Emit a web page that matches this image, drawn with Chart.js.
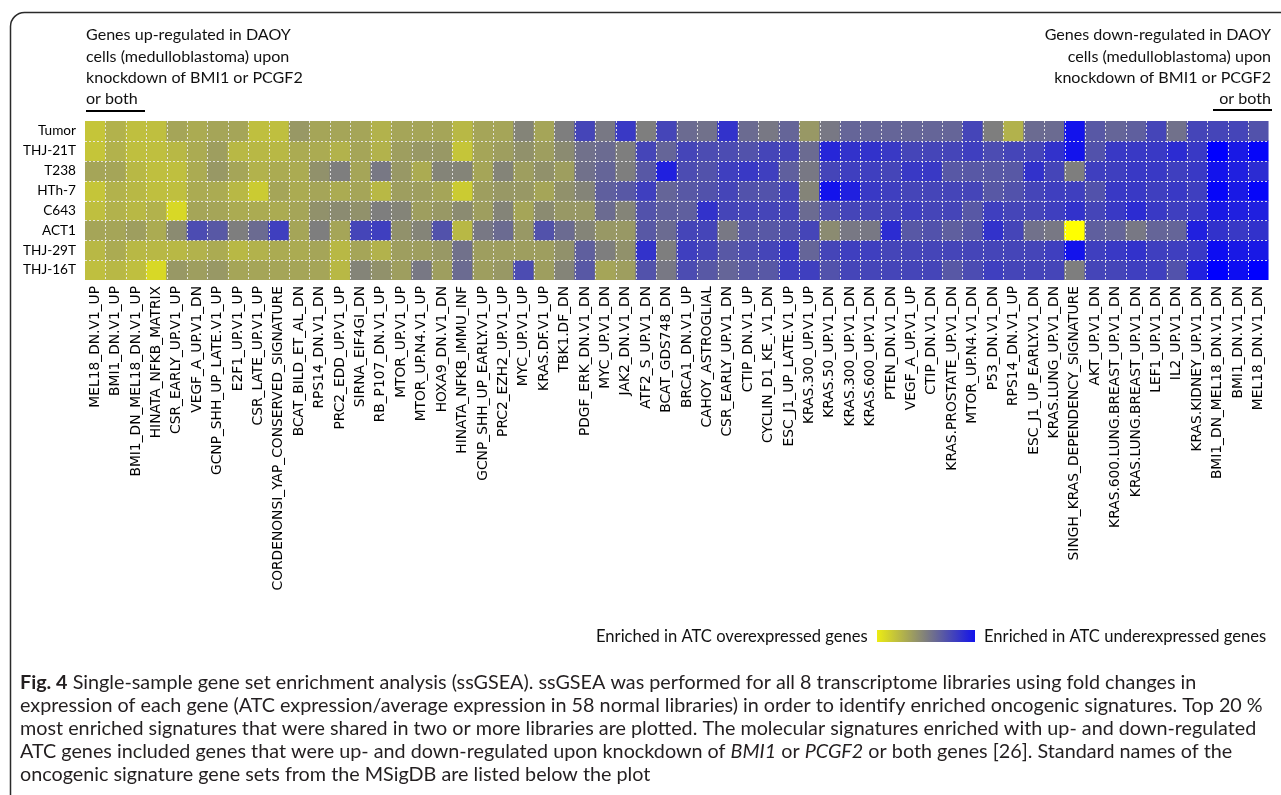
<!DOCTYPE html>
<html><head><meta charset="utf-8">
<script src="https://cdn.jsdelivr.net/npm/chart.js@4.4.1/dist/chart.umd.min.js"></script>
<style>html,body{margin:0;padding:0;background:#fff;overflow:hidden}canvas{display:block}</style>
</head><body>
<canvas id="c" width="1281" height="795" style="width:1281px;height:795px"></canvas>
<script>
const rowLabels = ['Tumor','THJ-21T','T238','HTh-7','C643','ACT1','THJ-29T','THJ-16T'];
const signatures = ['MEL18_DN.V1_UP','BMI1_DN.V1_UP','BMI1_DN_MEL18_DN.V1_UP','HINATA_NFKB_MATRIX','CSR_EARLY_UP.V1_UP','VEGF_A_UP.V1_DN','GCNP_SHH_UP_LATE.V1_UP','E2F1_UP.V1_UP','CSR_LATE_UP.V1_UP','CORDENONSI_YAP_CONSERVED_SIGNATURE','BCAT_BILD_ET_AL_DN','RPS14_DN.V1_DN','PRC2_EDD_UP.V1_UP','SIRNA_EIF4GI_DN','RB_P107_DN.V1_UP','MTOR_UP.V1_UP','MTOR_UP.N4.V1_UP','HOXA9_DN.V1_DN','HINATA_NFKB_IMMU_INF','GCNP_SHH_UP_EARLY.V1_UP','PRC2_EZH2_UP.V1_UP','MYC_UP.V1_UP','KRAS.DF.V1_UP','TBK1.DF_DN','PDGF_ERK_DN.V1_DN','MYC_UP.V1_DN','JAK2_DN.V1_DN','ATF2_S_UP.V1_DN','BCAT_GDS748_DN','BRCA1_DN.V1_UP','CAHOY_ASTROGLIAL','CSR_EARLY_UP.V1_DN','CTIP_DN.V1_UP','CYCLIN_D1_KE_.V1_DN','ESC_J1_UP_LATE.V1_UP','KRAS.300_UP.V1_UP','KRAS.50_UP.V1_DN','KRAS.300_UP.V1_DN','KRAS.600_UP.V1_DN','PTEN_DN.V1_DN','VEGF_A_UP.V1_UP','CTIP_DN.V1_DN','KRAS.PROSTATE_UP.V1_DN','MTOR_UP.N4.V1_DN','P53_DN.V1_DN','RPS14_DN.V1_UP','ESC_J1_UP_EARLY.V1_DN','KRAS.LUNG_UP.V1_DN','SINGH_KRAS_DEPENDENCY_SIGNATURE','AKT_UP.V1_DN','KRAS.600.LUNG.BREAST_UP.V1_DN','KRAS.LUNG.BREAST_UP.V1_DN','LEF1_UP.V1_DN','IL2_UP.V1_DN','KRAS.KIDNEY_UP.V1_DN','BMI1_DN_MEL18_DN.V1_DN','BMI1_DN.V1_DN','MEL18_DN.V1_DN'];

// enrichment score: +1 = overexpressed (yellow), -1 = underexpressed (blue)
const tumor  = [0.55,0.4,0.5,0.5,0.3,0.35,0.3,0.3,0.5,0.5,0.2,0.3,0.3,0.3,0.4,0.3,0.3,0.3,0.45,0.3,0.3,0.05,0.3,0.0,-0.45,-0.05,-0.55,0.0,-0.45,-0.15,-0.1,-0.6,-0.15,-0.05,-0.2,0.2,-0.05,-0.2,-0.2,-0.2,-0.2,-0.2,-0.2,-0.45,0.0,0.4,-0.15,-0.15,-0.85,-0.3,-0.2,-0.25,-0.45,-0.1,-0.45,-0.45,-0.45,-0.35];
const thj21t = [0.55,0.4,0.5,0.5,0.45,0.35,0.25,0.45,0.45,0.45,0.35,0.35,0.4,0.3,0.4,0.25,0.2,0.2,0.55,0.3,0.25,0.15,0.25,0.1,-0.1,-0.15,0.0,-0.45,-0.2,-0.45,-0.4,-0.4,-0.35,-0.45,-0.45,-0.15,-0.7,-0.6,-0.6,-0.55,-0.45,-0.45,-0.45,-0.5,-0.4,-0.45,-0.45,-0.6,-0.85,-0.35,-0.55,-0.55,-0.55,-0.65,-0.55,-1.0,-0.8,-0.95];
const t238   = [0.3,0.3,0.45,0.5,0.5,0.35,0.2,0.3,0.4,0.35,0.35,0.15,0.0,0.3,-0.05,0.2,0.35,0.05,0.05,0.3,0.05,0.25,0.15,0.25,-0.1,-0.2,0.0,-0.3,-0.75,-0.4,-0.35,-0.5,-0.55,-0.5,-0.25,-0.05,-0.45,-0.5,-0.5,-0.45,-0.55,-0.55,-0.3,-0.3,-0.3,-0.3,-0.6,-0.45,0.0,-0.5,-0.5,-0.55,-0.55,-0.5,-0.55,-0.85,-0.75,-0.65];
const hth7   = [0.55,0.4,0.45,0.5,0.5,0.35,0.35,0.45,0.6,0.3,0.35,0.3,0.35,0.3,0.45,0.25,0.25,0.3,0.6,0.25,0.2,0.2,0.3,0.15,0.05,-0.25,-0.3,-0.5,-0.2,-0.3,-0.35,-0.45,-0.35,-0.35,-0.45,0.05,-0.85,-0.75,-0.55,-0.5,-0.45,-0.45,-0.45,-0.45,-0.3,-0.35,-0.45,-0.5,-0.5,-0.35,-0.55,-0.55,-0.5,-0.55,-0.5,-0.95,-0.8,-0.95];
const c643   = [0.5,0.4,0.45,0.4,0.7,0.3,0.3,0.35,0.35,0.35,0.3,0.15,0.1,0.15,0.0,0.05,0.25,0.2,0.1,0.25,0.05,0.3,0.1,0.2,0.2,-0.15,0.05,-0.35,-0.25,-0.25,-0.6,-0.45,-0.45,-0.45,-0.45,-0.15,-0.4,-0.45,-0.45,-0.45,-0.5,-0.45,-0.45,-0.3,-0.5,-0.45,-0.45,-0.5,-0.6,-0.45,-0.55,-0.65,-0.55,-0.5,-0.55,-0.8,-0.75,-0.75];
const act1   = [0.3,0.3,0.25,0.35,0.1,-0.4,-0.3,0.0,-0.15,-0.5,0.3,0.0,0.3,-0.45,-0.5,0.15,0.05,-0.35,0.45,-0.05,-0.15,0.2,-0.35,-0.15,0.05,0.2,0.2,-0.3,-0.15,-0.45,-0.45,-0.05,-0.3,-0.3,-0.35,-0.45,0.1,-0.05,-0.05,-0.65,-0.3,-0.35,-0.25,-0.3,-0.6,-0.45,-0.1,-0.05,1.0,-0.25,-0.2,-0.05,-0.2,-0.2,-0.75,-0.6,-0.55,-0.6];
const thj29t = [0.45,0.35,0.45,0.45,0.45,0.4,0.35,0.45,0.4,0.35,0.35,0.3,0.45,0.3,0.4,0.25,0.25,0.2,-0.1,0.25,0.25,0.25,0.25,0.15,-0.25,0.0,0.15,-0.6,0.0,-0.5,-0.45,-0.3,-0.4,-0.45,-0.55,-0.2,-0.45,-0.5,-0.5,-0.45,-0.45,-0.45,-0.45,-0.45,-0.45,-0.45,-0.45,-0.5,-0.85,-0.5,-0.55,-0.6,-0.5,-0.5,-0.55,-0.9,-0.8,-0.8];
const thj16t = [0.5,0.45,0.5,0.7,0.2,0.25,0.2,0.3,0.3,0.3,0.3,0.3,0.45,0.05,0.15,0.25,-0.05,0.25,-0.15,0.25,0.2,-0.4,0.25,0.05,-0.3,0.3,0.25,-0.35,-0.05,-0.4,-0.3,-0.2,-0.3,-0.3,-0.5,-0.5,-0.35,-0.45,-0.45,-0.45,-0.45,-0.45,-0.3,-0.4,-0.5,-0.45,-0.45,-0.45,0.0,-0.45,-0.45,-0.5,-0.5,-0.35,-0.75,-1.0,-0.9,-1.0];
const rowValues = [tumor, thj21t, t238, hth7, c643, act1, thj29t, thj16t];

const upTitle = ['Genes up-regulated in DAOY','cells (medulloblastoma) upon','knockdown of BMI1 or PCGF2','or both'];
const downTitle = ['Genes down-regulated in DAOY','cells (medulloblastoma) upon','knockdown of BMI1 or PCGF2','or both'];
const legendLeft = 'Enriched in ATC overexpressed genes';
const legendRight = 'Enriched in ATC underexpressed genes';

function scoreColor(v) {
  v = Math.max(-1, Math.min(1, v));
  let r, b;
  if (v >= 0) { r = 126 + 129 * v; b = 126 - 126 * v; }
  else { r = 126 * (1 + v); b = 126 - 129 * v; }
  return 'rgb(' + Math.round(r) + ',' + Math.round(r) + ',' + Math.round(b) + ')';
}

function fitSize(ctx, text, style, family, target) {
  ctx.font = style + ' 100px ' + family;
  return 100 * target / ctx.measureText(text).width;
}

const gridPlugin = {
  id: 'cellGrid',
  afterDatasetsDraw(chart) {
    const ctx = chart.ctx, xs = chart.scales.x, ys = chart.scales.y, a = chart.chartArea;
    ctx.save();
    ctx.strokeStyle = 'rgba(235,235,235,0.9)';
    ctx.lineWidth = 1;
    ctx.setLineDash([2, 2]);
    for (let i = 1; i < signatures.length; i++) {
      const x = Math.round((xs.getPixelForValue(i - 1) + xs.getPixelForValue(i)) / 2) + 0.5;
      ctx.beginPath(); ctx.moveTo(x, a.top); ctx.lineTo(x, a.bottom); ctx.stroke();
    }
    for (let j = 1; j < rowLabels.length; j++) {
      const y = Math.round(ys.getPixelForValue(j)) + 0.5;
      ctx.beginPath(); ctx.moveTo(a.left, y); ctx.lineTo(a.right, y); ctx.stroke();
    }
    ctx.restore();
  }
};

const decorPlugin = {
  id: 'decor',
  afterDraw(chart) {
    const ctx = chart.ctx;
    ctx.save();
    // frame
    ctx.strokeStyle = '#2a2a2a';
    ctx.lineWidth = 1.5;
    ctx.beginPath();
    ctx.roundRect(10.5, 12.5, 1400, 900, 14);
    ctx.stroke();

    // annotations above heatmap
    const fam = 'Lato, "Open Sans", sans-serif';
    const fs = fitSize(ctx, upTitle[2], '', fam, 217);
    ctx.font = fs.toFixed(2) + 'px ' + fam;
    ctx.fillStyle = '#111';
    ctx.textBaseline = 'middle';
    const ys = [35, 57, 78, 99];
    ctx.textAlign = 'left';
    upTitle.forEach((t, i) => ctx.fillText(t, 86, ys[i]));
    ctx.textAlign = 'right';
    downTitle.forEach((t, i) => ctx.fillText(t, 1271, ys[i]));
    ctx.fillStyle = '#000';
    ctx.fillRect(86, 110, 59, 2);
    ctx.fillRect(1213, 109, 59, 2);

    // legend
    const lf = fitSize(ctx, legendLeft, '', fam, 272);
    ctx.font = lf.toFixed(2) + 'px ' + fam;
    ctx.fillStyle = '#111';
    ctx.textAlign = 'left';
    ctx.fillText(legendLeft, 596, 637);
    ctx.fillText(legendRight, 984, 637);
    const g = ctx.createLinearGradient(877, 0, 975, 0);
    for (let k = 0; k <= 10; k++) g.addColorStop(k / 10, scoreColor(0.85 - 1.7 * k / 10));
    ctx.fillStyle = g;
    ctx.fillRect(877, 630, 98, 12);

    // caption
    const cf = 'Lato, "Open Sans", sans-serif';
    const line2 = 'expression of each gene (ATC expression/average expression in 58 normal libraries) in order to identify enriched oncogenic signatures. Top 20 %';
    const csz = fitSize(ctx, line2, '', cf, 1243).toFixed(2);
    const reg = csz + 'px ' + cf, bold = 'bold ' + csz + 'px ' + cf, ital = 'italic ' + csz + 'px ' + cf;
    ctx.fillStyle = '#231f20';
    ctx.textAlign = 'left';
    function runs(parts, y) {
      let x = 20;
      parts.forEach(p => { ctx.font = p[1]; ctx.fillText(p[0], x, y); x += ctx.measureText(p[0]).width; });
    }
    runs([['Fig. 4', bold], [' Single-sample gene set enrichment analysis (ssGSEA). ssGSEA was performed for all 8 transcriptome libraries using fold changes in', reg]], 683);
    runs([[line2, reg]], 706);
    runs([['most enriched signatures that were shared in two or more libraries are plotted. The molecular signatures enriched with up- and down-regulated', reg]], 729);
    runs([['ATC genes included genes that were up- and down-regulated upon knockdown of ', reg], ['BMI1', ital], [' or ', reg], ['PCGF2', ital], [' or both genes [26]. Standard names of the', reg]], 752);
    runs([['oncogenic signature gene sets from the MSigDB are listed below the plot', reg]], 775);
    ctx.restore();
  }
};

const datasets = rowLabels.map((name, r) => ({
  label: name,
  data: signatures.map(() => 1),
  backgroundColor: rowValues[r].map(scoreColor),
  borderWidth: 0,
  barPercentage: 1,
  categoryPercentage: 1,
  stack: 'cells'
}));

new Chart(document.getElementById('c'), {
  type: 'bar',
  data: { labels: signatures, datasets },
  options: {
    responsive: false,
    animation: false,
    devicePixelRatio: 1,
    layout: { padding: { left: 0, right: 6, top: 121, bottom: 175 } },
    plugins: { legend: { display: false }, tooltip: { enabled: false } },
    scales: {
      x: {
        type: 'category',
        stacked: true,
        offset: true,
        grid: { display: false, drawTicks: false },
        border: { display: false },
        ticks: {
          autoSkip: false, minRotation: 90, maxRotation: 90, padding: 6,
          color: '#000', font: { family: '"DejaVu Sans", sans-serif', size: 13.8 }
        },
        afterFit(scale) { scale.height = 340; }
      },
      y: {
        type: 'linear',
        stacked: true,
        reverse: true,
        min: 0, max: rowLabels.length,
        grid: { display: false, drawTicks: false },
        border: { display: false },
        afterBuildTicks(scale) { scale.ticks = rowLabels.map((_, i) => ({ value: i + 0.5 })); },
        ticks: {
          padding: 9, color: '#000',
          font: { family: 'Lato, sans-serif', size: 13.6 },
          callback: (v) => rowLabels[Math.floor(v)]
        },
        afterFit(scale) { scale.width = 85; }
      }
    }
  },
  plugins: [gridPlugin, decorPlugin]
});
</script>
</body></html>
